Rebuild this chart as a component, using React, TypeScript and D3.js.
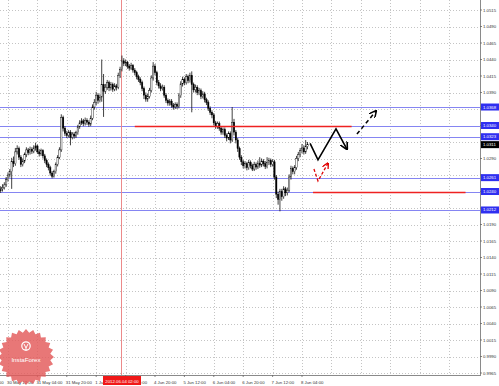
import React from 'react';
import * as d3 from 'd3';

const W = 499;
const H = 386;

// H1 candles (bar 0 = 30 May 08:00), open = previous close
const firstOpen = 1.0241;
const closes = [
  1.0244, 1.0246, 1.0250, 1.0258, 1.0265, 1.0270, 1.0286, 1.0282, 1.0300, 1.0305,
  1.0292, 1.0281, 1.0286, 1.0296, 1.0303, 1.0299, 1.0304, 1.0301, 1.0306, 1.0309,
  1.0300, 1.0297, 1.0302, 1.0294, 1.0287, 1.0281, 1.0276, 1.0268, 1.0263, 1.0270,
  1.0281, 1.0292, 1.0303, 1.0352, 1.0336, 1.0328, 1.0325, 1.0330, 1.0322, 1.0327,
  1.0324, 1.0329, 1.0338, 1.0344, 1.0347, 1.0343, 1.0348, 1.0345, 1.0342, 1.0351,
  1.0368, 1.0375, 1.0386, 1.0378, 1.0383, 1.0402, 1.0392, 1.0398, 1.0405, 1.0397,
  1.0402, 1.0395, 1.0400, 1.0398, 1.0416, 1.0425, 1.0438, 1.0434, 1.0436, 1.0430,
  1.0427, 1.0431, 1.0424, 1.0420, 1.0414, 1.0410, 1.0405, 1.0396, 1.0386, 1.0380,
  1.0384, 1.0393, 1.0412, 1.0430, 1.0420, 1.0405, 1.0400, 1.0396, 1.0398, 1.0386,
  1.0378, 1.0374, 1.0377, 1.0371, 1.0368, 1.0372, 1.0369, 1.0385, 1.0403, 1.0410,
  1.0405, 1.0414, 1.0408, 1.0416, 1.0402, 1.0394, 1.0398, 1.0390, 1.0393, 1.0384,
  1.0388, 1.0379, 1.0375, 1.0366, 1.0360, 1.0356, 1.0344, 1.0339, 1.0343, 1.0336,
  1.0330, 1.0334, 1.0325, 1.0321, 1.0328, 1.0318, 1.0345, 1.0330, 1.0318, 1.0305,
  1.0292, 1.0285, 1.0279, 1.0282, 1.0276, 1.0284, 1.0279, 1.0274, 1.0281, 1.0277,
  1.0283, 1.0280, 1.0286, 1.0282, 1.0278, 1.0284, 1.0287, 1.0281, 1.0285, 1.0262,
  1.0236, 1.0228, 1.0240, 1.0232, 1.0244, 1.0238, 1.0242, 1.0262, 1.0275, 1.0270,
  1.0276, 1.0290, 1.0296, 1.0302, 1.0306, 1.0300, 1.0308, 1.0311,
];
const highs = [
  1.0248, 1.0251, 1.0254, 1.0262, 1.0269, 1.0274, 1.0291, 1.0293, 1.0306, 1.0310,
  1.0308, 1.0295, 1.0290, 1.0299, 1.0307, 1.0306, 1.0308, 1.0307, 1.0310, 1.0314,
  1.0311, 1.0304, 1.0305, 1.0304, 1.0297, 1.0290, 1.0284, 1.0279, 1.0271, 1.0273,
  1.0284, 1.0295, 1.0307, 1.0357, 1.0355, 1.0339, 1.0332, 1.0333, 1.0333, 1.0330,
  1.0330, 1.0332, 1.0341, 1.0348, 1.0351, 1.0350, 1.0352, 1.0351, 1.0348, 1.0355,
  1.0372, 1.0380, 1.0391, 1.0389, 1.0387, 1.0440, 1.0418, 1.0403, 1.0409, 1.0408,
  1.0406, 1.0405, 1.0404, 1.0403, 1.0420, 1.0429, 1.0446, 1.0442, 1.0440, 1.0438,
  1.0433, 1.0435, 1.0433, 1.0427, 1.0423, 1.0417, 1.0413, 1.0408, 1.0399, 1.0390,
  1.0388, 1.0397, 1.0416, 1.0436, 1.0433, 1.0423, 1.0409, 1.0404, 1.0402, 1.0401,
  1.0389, 1.0381, 1.0380, 1.0380, 1.0374, 1.0375, 1.0375, 1.0389, 1.0407, 1.0414,
  1.0413, 1.0418, 1.0417, 1.0420, 1.0422, 1.0405, 1.0402, 1.0401, 1.0397, 1.0396,
  1.0392, 1.0391, 1.0382, 1.0378, 1.0369, 1.0363, 1.0359, 1.0347, 1.0346, 1.0346,
  1.0339, 1.0337, 1.0337, 1.0328, 1.0331, 1.0331, 1.0368, 1.0350, 1.0333, 1.0321,
  1.0308, 1.0295, 1.0288, 1.0286, 1.0285, 1.0288, 1.0287, 1.0282, 1.0285, 1.0284,
  1.0287, 1.0292, 1.0290, 1.0289, 1.0286, 1.0292, 1.0291, 1.0290, 1.0289, 1.0288,
  1.0265, 1.0240, 1.0244, 1.0244, 1.0248, 1.0247, 1.0246, 1.0266, 1.0279, 1.0278,
  1.0280, 1.0294, 1.0300, 1.0306, 1.0312, 1.0310, 1.0318, 1.0315,
];
const lows = [
  1.0238, 1.0240, 1.0243, 1.0247, 1.0255, 1.0261, 1.0244, 1.0277, 1.0279, 1.0296,
  1.0288, 1.0277, 1.0278, 1.0283, 1.0292, 1.0295, 1.0296, 1.0297, 1.0298, 1.0302,
  1.0297, 1.0293, 1.0294, 1.0290, 1.0283, 1.0277, 1.0272, 1.0264, 1.0260, 1.0261,
  1.0267, 1.0278, 1.0289, 1.0300, 1.0331, 1.0324, 1.0321, 1.0322, 1.0310, 1.0319,
  1.0320, 1.0321, 1.0326, 1.0335, 1.0341, 1.0339, 1.0340, 1.0341, 1.0338, 1.0339,
  1.0348, 1.0364, 1.0371, 1.0373, 1.0375, 1.0376, 1.0353, 1.0388, 1.0394, 1.0392,
  1.0393, 1.0391, 1.0392, 1.0393, 1.0395, 1.0412, 1.0422, 1.0430, 1.0430, 1.0426,
  1.0423, 1.0424, 1.0420, 1.0416, 1.0410, 1.0406, 1.0401, 1.0392, 1.0380, 1.0376,
  1.0376, 1.0381, 1.0390, 1.0408, 1.0416, 1.0401, 1.0396, 1.0392, 1.0393, 1.0382,
  1.0374, 1.0370, 1.0370, 1.0367, 1.0364, 1.0365, 1.0365, 1.0366, 1.0382, 1.0399,
  1.0401, 1.0402, 1.0404, 1.0405, 1.0360, 1.0390, 1.0390, 1.0386, 1.0386, 1.0380,
  1.0381, 1.0375, 1.0371, 1.0362, 1.0356, 1.0351, 1.0340, 1.0335, 1.0335, 1.0332,
  1.0326, 1.0326, 1.0321, 1.0316, 1.0318, 1.0313, 1.0315, 1.0325, 1.0313, 1.0300,
  1.0288, 1.0280, 1.0275, 1.0275, 1.0272, 1.0273, 1.0275, 1.0271, 1.0271, 1.0273,
  1.0274, 1.0276, 1.0277, 1.0278, 1.0274, 1.0275, 1.0280, 1.0277, 1.0278, 1.0258,
  1.0230, 1.0220, 1.0210, 1.0226, 1.0229, 1.0233, 1.0234, 1.0239, 1.0258, 1.0266,
  1.0266, 1.0273, 1.0286, 1.0292, 1.0298, 1.0296, 1.0297, 1.0304,
];

const priceTicks = [
  0.9965, 0.9990, 1.0015, 1.0040, 1.0065, 1.0090, 1.0115, 1.0140, 1.0165, 1.0190,
  1.0215, 1.0240, 1.0265, 1.0290, 1.0315, 1.0340, 1.0365, 1.0390, 1.0415, 1.0440,
  1.0465, 1.0490, 1.0515,
];

const timeLabels = [
  '29 May 20:00', '30 May 12:00', '31 May 04:00', '31 May 20:00', '1 Jun 12:00',
  '4 Jun 04:00', '4 Jun 20:00', '5 Jun 12:00', '6 Jun 04:00', '6 Jun 20:00',
  '7 Jun 12:00', '8 Jun 04:00',
];
const timeLabelBars = [-12, 4, 20, 36, 52, 68, 84, 100, 116, 132, 148, 164];
const gridBars = [4, 20, 36, 52, 68, 84, 100, 116, 132, 148, 164, 180, 196, 212, 228, 244];

const blueLevels = [1.0368, 1.0340, 1.0323, 1.0261, 1.0240, 1.0212];
const currentPrice = 1.0311;

const redLevelPrices = [1.0340, 1.0240];
const redLevelFrom = [73, 170];
const redLevelTo = [191, 253];

const zigBars = [168.4, 172.7, 182.5, 188.5];
const zigPrices = [1.0313, 1.0288, 1.0335, 1.0304];
const dashBars = [193.9, 204.3];
const dashPrices = [1.0327, 1.0362];
const redZigBars = [170.5, 172.7, 178.2];
const redZigPrices = [1.0274, 1.0256, 1.0283];

const markerBar = 65.5;
const markerLabel = '2012.06.04 02:00';

const FONT = 'Liberation Sans, Arial, sans-serif';

export default function App() {
  const plotRight = 480;
  const plotBottom = 375;
  const x = d3.scaleLinear().domain([0, 260]).range([0.65, 478.4]);
  const y = d3.scaleLinear().domain([0.9965, 1.0515]).range([373, 10]);
  const fmt = d3.format('.4f');
  const snap = (v: number) => Math.round(v) + 0.5;

  const candles = closes.map((c, i) => {
    const o = i === 0 ? firstOpen : closes[i - 1];
    return { o, c, h: highs[i], l: lows[i], i };
  });

  const line = d3.line<[number, number]>().x((d) => x(d[0])).y((d) => y(d[1]));

  const levelYs = [...blueLevels, currentPrice].map((p) => y(p));
  const gridLabelTicks = priceTicks.filter((p) => levelYs.every((ly) => Math.abs(ly - y(p)) > 6.5));

  // starburst logo geometry
  const cx = 26, cy = 357, rO = 28, rI = 24.5, n = 24;
  const star = d3.range(n * 2).map((k) => {
    const a = (Math.PI * k) / n;
    const r = k % 2 === 0 ? rO : rI;
    return [cx + r * Math.sin(a), cy - r * Math.cos(a)] as [number, number];
  });
  const starPath = 'M' + star.map((p) => p.join(',')).join('L') + 'Z';

  return (
    <svg
      width={W}
      height={H}
      style={{ position: 'fixed', left: 0, top: 0, background: '#fff', fontFamily: FONT }}
    >
      <defs>
        <clipPath id="plot">
          <rect x={0} y={0} width={plotRight} height={plotBottom} />
        </clipPath>
        <marker id="arrBlack" viewBox="0 0 10 10" refX="9" refY="5" markerWidth="5" markerHeight="5" orient="auto">
          <path d="M0,0 L10,5 L0,10" fill="none" stroke="#000" strokeWidth={2} />
        </marker>
        <marker id="arrRed" viewBox="0 0 10 10" refX="9" refY="5" markerWidth="5" markerHeight="5" orient="auto">
          <path d="M0,0 L10,5 L0,10" fill="none" stroke="#e00000" strokeWidth={2} />
        </marker>
      </defs>
      <rect x={0} y={0} width={W} height={H} fill="#fff" />

      <g clipPath="url(#plot)">
        {/* grid */}
        {priceTicks.map((p) => (
          <line key={'hg' + p} x1={0} x2={plotRight} y1={snap(y(p))} y2={snap(y(p))}
            stroke="#c4c4c4" strokeWidth={1} strokeDasharray="1,2" />
        ))}
        {gridBars.map((b) => (
          <line key={'vg' + b} x1={snap(x(b))} x2={snap(x(b))} y1={0} y2={plotBottom}
            stroke="#c4c4c4" strokeWidth={1} strokeDasharray="1,2" />
        ))}

        {/* blue levels */}
        {blueLevels.map((p) => (
          <line key={'bl' + p} x1={0} x2={plotRight} y1={snap(y(p))} y2={snap(y(p))} stroke="#8585f2" strokeWidth={1.2} />
        ))}

        {/* vertical red marker */}
        <line x1={snap(x(markerBar))} x2={snap(x(markerBar))} y1={0} y2={plotBottom}
          stroke="#ec8a8a" strokeWidth={1} />

        {/* candles */}
        {candles.map((d) => {
          const cxp = x(d.i);
          const top = y(Math.max(d.o, d.c));
          const bot = y(Math.min(d.o, d.c));
          const bull = d.c >= d.o;
          return (
            <g key={d.i}>
              <line x1={cxp} x2={cxp} y1={y(d.h)} y2={y(d.l)} stroke="#111" strokeWidth={0.8} />
              <rect x={cxp - 0.7} y={top} width={1.4} height={Math.max(bot - top, 0.6)}
                fill={bull ? '#fff' : '#000'} stroke="#000" strokeWidth={0.4} />
            </g>
          );
        })}

        {/* red levels */}
        {redLevelPrices.map((p, k) => (
          <line key={'rl' + k} x1={x(redLevelFrom[k])} x2={x(redLevelTo[k])} y1={snap(y(p))} y2={snap(y(p))}
            stroke="#ee2222" strokeWidth={1.5} />
        ))}

        {/* forecast arrows */}
        <path d={line(zigBars.map((b, k) => [b, zigPrices[k]]))!} fill="none" stroke="#000" strokeWidth={1.6}
          markerEnd="url(#arrBlack)" />
        <path d={line(dashBars.map((b, k) => [b, dashPrices[k]]))!} fill="none" stroke="#000" strokeWidth={1.5}
          strokeDasharray="4,3" markerEnd="url(#arrBlack)" />
        <path d={line(redZigBars.map((b, k) => [b, redZigPrices[k]]))!} fill="none" stroke="#e00000" strokeWidth={1.3}
          strokeDasharray="3,2" markerEnd="url(#arrRed)" />
      </g>

      {/* axes */}
      <line x1={plotRight + 0.5} x2={plotRight + 0.5} y1={0} y2={plotBottom + 1} stroke="#8a8a8a" strokeWidth={1} />
      <line x1={0} x2={plotRight + 1} y1={plotBottom + 0.5} y2={plotBottom + 0.5} stroke="#8a8a8a" strokeWidth={1} />

      {priceTicks.map((p) => (
        <line key={'ptk' + p} x1={plotRight} x2={plotRight + 2} y1={y(p)} y2={y(p)} stroke="#666" strokeWidth={0.8} />
      ))}
      {gridLabelTicks.map((p) => (
        <text key={'pt' + p} x={483} y={y(p) + 1.5} fontSize={4.3} fill="#333">{fmt(p)}</text>
      ))}

      {timeLabels.map((t, k) => (
        <g key={'tl' + k}>
          <line x1={x(timeLabelBars[k])} x2={x(timeLabelBars[k])} y1={plotBottom} y2={plotBottom + 2} stroke="#666" strokeWidth={0.8} />
          <text x={x(timeLabelBars[k]) - 1} y={384} fontSize={4.3} fill="#333">{t}</text>
        </g>
      ))}

      {/* blue level labels */}
      {blueLevels.map((p) => (
        <g key={'blab' + p}>
          <rect x={481} y={y(p) - 3.5} width={18} height={7} fill="#2f2ff0" />
          <text x={483} y={y(p) + 1.5} fontSize={4.3} fill="#fff">{fmt(p)}</text>
        </g>
      ))}
      <rect x={481} y={y(currentPrice) - 3.5} width={18} height={7} fill="#000" />
      <text x={483} y={y(currentPrice) + 1.5} fontSize={4.3} fill="#fff">{fmt(currentPrice)}</text>

      {/* marker date box */}
      <rect x={x(markerBar) - 18} y={376} width={38} height={9} fill="#f01818" />
      <text x={x(markerBar) + 1} y={383} fontSize={4.3} fill="#fff" textAnchor="middle">{markerLabel}</text>

      {/* logo */}
      <g opacity={0.82}>
        <path d={starPath} fill="#e45a5a" />
        <circle cx={cx} cy={cy - 11} r={4.2} fill="none" stroke="#fff" strokeWidth={1.2} />
        <path d={`M${cx - 2},${cy - 13} L${cx},${cy - 9} L${cx + 2},${cy - 13} M${cx},${cy - 9} L${cx},${cy - 6}`}
          fill="none" stroke="#fff" strokeWidth={1} />
        <text x={cx} y={cy + 5} fontSize={6.2} fill="#fff" textAnchor="middle" fontFamily={FONT}>InstaForex</text>
      </g>
    </svg>
  );
}
